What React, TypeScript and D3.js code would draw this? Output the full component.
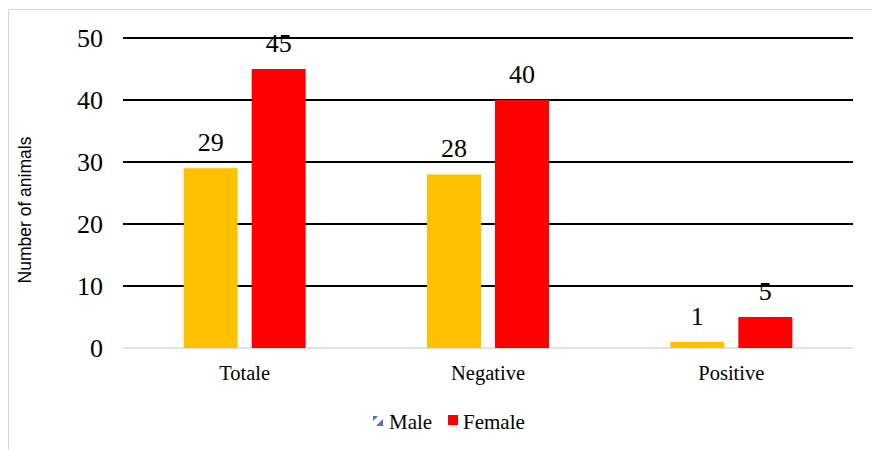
import React, { useEffect, useRef } from "react";
import * as d3 from "d3";

const categories = ["Totale", "Negative", "Positive"];
const maleValues = [29, 28, 1];
const femaleValues = [45, 40, 5];
const yTicks = [0, 10, 20, 30, 40, 50];

const W = 872;
const H = 450;

export default function App() {
  const ref = useRef<SVGSVGElement>(null);

  useEffect(() => {
    const svg = d3.select(ref.current);
    svg.selectAll("*").remove();

    const serif = "Liberation Serif, Times New Roman, serif";

    // outer frame
    svg.append("rect")
      .attr("x", 8.5).attr("y", 9.5)
      .attr("width", W).attr("height", H)
      .attr("fill", "#fff")
      .attr("stroke", "#d9d9d9");

    const x = d3.scaleBand().domain(categories).range([123, 853]);
    const y = d3.scaleLinear().domain([0, 50]).range([348, 38]);

    // gridlines
    svg.append("g")
      .selectAll("line")
      .data(yTicks)
      .enter().append("line")
      .attr("x1", 123).attr("x2", 853)
      .attr("y1", d => y(d)).attr("y2", d => y(d))
      .attr("stroke", d => d === 0 ? "#d9d9d9" : "#000")
      .attr("stroke-width", d => d === 0 ? 1.5 : 2);

    // y tick labels
    svg.append("g")
      .selectAll("text")
      .data(yTicks)
      .enter().append("text")
      .attr("x", 103)
      .attr("y", d => y(d))
      .attr("dy", "0.34em")
      .attr("text-anchor", "end")
      .style("font-family", serif)
      .style("font-size", "26px")
      .text(d => d);

    // y title
    svg.append("text")
      .attr("transform", "translate(31,210) rotate(-90)")
      .attr("text-anchor", "middle")
      .style("font-family", "Liberation Sans, Arial, sans-serif")
      .style("font-size", "17.5px")
      .text("Number of animals");

    const barW = 54;
    const gap = 14;
    const series = [
      { name: "Male", values: maleValues, color: "#ffc000", off: -gap / 2 - barW },
      { name: "Female", values: femaleValues, color: "#ff0000", off: gap / 2 },
    ];

    series.forEach(s => {
      const g = svg.append("g");
      g.selectAll("rect")
        .data(categories)
        .enter().append("rect")
        .attr("x", (c) => (x(c) as number) + x.bandwidth() / 2 + s.off)
        .attr("y", (c, i) => y(s.values[i]))
        .attr("width", barW)
        .attr("height", (c, i) => y(0) - y(s.values[i]))
        .attr("fill", s.color);
      g.selectAll("text")
        .data(categories)
        .enter().append("text")
        .attr("x", (c) => (x(c) as number) + x.bandwidth() / 2 + s.off + barW / 2)
        .attr("y", (c, i) => y(s.values[i]) - 17)
        .attr("text-anchor", "middle")
        .style("font-family", serif)
        .style("font-size", "26px")
        .text((c, i) => s.values[i]);
    });

    // category labels
    svg.append("g")
      .selectAll("text")
      .data(categories)
      .enter().append("text")
      .attr("x", c => (x(c) as number) + x.bandwidth() / 2)
      .attr("y", 380)
      .attr("text-anchor", "middle")
      .style("font-family", serif)
      .style("font-size", "20.5px")
      .text(c => c);

    // legend
    const lg = svg.append("g").attr("transform", "translate(373,415)");
    lg.append("path").attr("d", "M0,1 L5,1 L0,6 Z").attr("fill", "#4472c4");
    lg.append("path").attr("d", "M10,4 L10,11 L3,11 Z").attr("fill", "#4472c4");
    lg.append("text")
      .attr("x", 16).attr("y", 14)
      .style("font-family", serif).style("font-size", "21px")
      .text("Male");
    lg.append("rect").attr("x", 75).attr("y", 0).attr("width", 10).attr("height", 10).attr("fill", "#ff0000");
    lg.append("text")
      .attr("x", 90).attr("y", 14)
      .style("font-family", serif).style("font-size", "21px")
      .text("Female");
  }, []);

  return (
    <svg ref={ref} width={W} height={H}
      style={{ position: "absolute", left: 0, top: 0, display: "block" }} />
  );
}
